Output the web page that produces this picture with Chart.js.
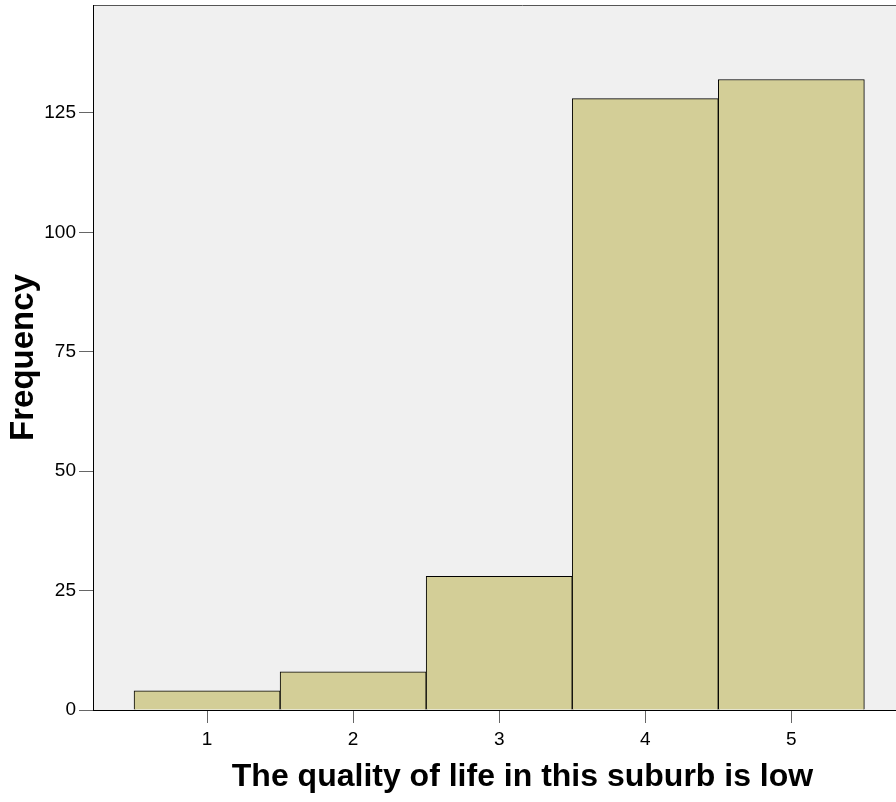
<!DOCTYPE html>
<html>
<head>
<meta charset="utf-8">
<script src="https://cdn.jsdelivr.net/npm/chart.js@4"></script>
<style>
  html,body{ margin:0; padding:0; background:#fff; overflow:hidden; }
  /* el área del gráfico sigue más allá del borde derecho (recortada como en la imagen) */
  #wrap{ position:relative; width:952px; height:802px; }
</style>
</head>
<body>
<div id="wrap"><canvas id="hist"></canvas></div>
<script>
// Data
const categories = [1, 2, 3, 4, 5];
const counts     = [4, 8, 28, 128, 132];
const yTicks     = [0, 25, 50, 75, 100, 125];
const xLabel = 'The quality of life in this suburb is low';
const yLabel = 'Frequency';

// Helpers
const $ = (q)=>document.querySelector(q);
const FONT = "'Liberation Sans', Arial, sans-serif";

// fondo gris del área + borde superior
const plotBg = {
  id: 'plotBg',
  beforeDraw(chart){
    const { ctx, chartArea:a } = chart;
    ctx.save();
    ctx.fillStyle = '#f0f0f0';
    ctx.fillRect(a.left, a.top, a.right - a.left, a.bottom - a.top);
    ctx.strokeStyle = '#555';
    ctx.lineWidth = 1;
    ctx.beginPath();
    ctx.moveTo(a.left, a.top + 0.5);
    ctx.lineTo(a.right, a.top + 0.5);
    ctx.stroke();
    ctx.restore();
  }
};

new Chart($('#hist'), {
  type: 'bar',
  data: {
    datasets: [{
      data: categories.map((x,i)=>({ x, y: counts[i] })),
      backgroundColor: '#d3ce97',
      borderColor: '#000',
      borderWidth: 1,
      barPercentage: 1,
      categoryPercentage: 1
    }]
  },
  options: {
    responsive: true, maintainAspectRatio: false, animation: false,
    layout: { padding: { top: 5, right: 0, left: 0, bottom: 0 } },
    plugins: { legend: { display: false }, tooltip: { enabled: false } },
    scales: {
      x: {
        type: 'linear', min: 0.219, max: 6.1, offset: false,
        afterBuildTicks: (s)=>{ s.ticks = categories.map(v=>({ value: v })); },
        afterFit: (s)=>{ s.height = 92; s.paddingLeft = 0; s.paddingRight = 0; },
        grid: { offset: false, drawOnChartArea: false, drawTicks: true, tickLength: 13, color: '#666' },
        border: { display: true, color: '#000', width: 1 },
        ticks: { color: '#000', font: { family: FONT, size: 19 }, padding: 5, maxRotation: 0 },
        title: { display: true, text: xLabel, color: '#000',
                 font: { family: FONT, size: 32, weight: 'bold' }, padding: { top: 0, bottom: 6 } }
      },
      y: {
        min: 0, max: 147.6,
        afterBuildTicks: (s)=>{ s.ticks = yTicks.map(v=>({ value: v })); },
        afterFit: (s)=>{ s.width = 93; s.paddingTop = 0; s.paddingBottom = 0; },
        grid: { drawOnChartArea: false, drawTicks: true, tickLength: 14, color: '#666' },
        border: { display: true, color: '#000', width: 1 },
        ticks: { color: '#000', font: { family: FONT, size: 19 }, padding: 3 },
        title: { display: true, text: yLabel, color: '#000',
                 font: { family: FONT, size: 33, weight: 'bold' }, padding: { top: 4, bottom: 0 } }
      }
    }
  },
  plugins: [plotBg]
});
</script>
</body>
</html>
